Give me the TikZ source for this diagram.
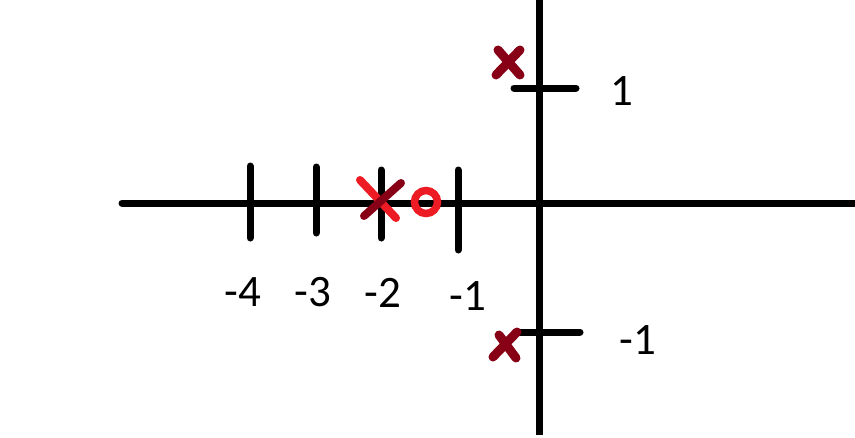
\documentclass[tikz,border=0pt]{standalone}
\usepackage{fontspec}
\setmainfont{Carlito}
\definecolor{darkred}{HTML}{880015}
\definecolor{brightred}{HTML}{ED1C24}
\begin{document}
\begin{tikzpicture}[x=1pt,y=-1pt,
  axis/.style={line width=7pt,black},
  tick/.style={line width=7pt,black,line cap=round},
  xmark/.style={line width=9pt,darkred,line cap=round},
  lbl/.style={font=\fontsize{45}{45}\selectfont,inner sep=0pt,anchor=center}]
\useasboundingbox[fill=white] (0,0) rectangle (855,437);
% axes
\coordinate (hl) at (122,203);
\coordinate (hr) at (855,203);
\coordinate (vt) at (539,0);
\coordinate (vb) at (539,435);
\draw[axis,line cap=round] (hl) -- (hr);
\draw[axis] (vt) -- (vb);
% ticks on real axis
\coordinate (t4a) at (250,166); \coordinate (t4b) at (250,238);
\coordinate (t3a) at (316,167); \coordinate (t3b) at (316,233);
\coordinate (t2a) at (381,170); \coordinate (t2b) at (381,238);
\coordinate (t1a) at (458,170); \coordinate (t1b) at (458,250);
\draw[tick] (t4a) -- (t4b);
\draw[tick] (t3a) -- (t3b);
\draw[tick] (t2a) -- (t2b);
\draw[tick] (t1a) -- (t1b);
% ticks on imaginary axis
\coordinate (u1a) at (514,88); \coordinate (u1b) at (576,88);
\coordinate (m1a) at (516,332); \coordinate (m1b) at (580,332);
\draw[tick] (u1a) -- (u1b);
\draw[tick] (m1a) -- (m1b);
% labels
\node[lbl] (l4) at (243,292) {-4};
\node[lbl] (l3) at (313,292) {-3};
\node[lbl] (l2) at (383,293) {-2};
\node[lbl] (l1) at (468,296) {-1};
\node[lbl] (lp1) at (622,91) {1};
\node[lbl] (lm1) at (638,340) {-1};
% poles (x marks)
\coordinate (xa1) at (498,50); \coordinate (xa2) at (520,75);
\coordinate (xa3) at (520,50); \coordinate (xa4) at (496,75);
\draw[xmark] (xa1) -- (xa2);
\draw[xmark] (xa3) -- (xa4);
\coordinate (xb1) at (499,335); \coordinate (xb2) at (516,358);
\coordinate (xb3) at (517,332); \coordinate (xb4) at (493,357);
\draw[xmark] (xb1) -- (xb2);
\draw[xmark] (xb3) -- (xb4);
% central x
\coordinate (xc1) at (360,180); \coordinate (xc2) at (396,218);
\coordinate (xc3) at (401,183); \coordinate (xc4) at (364,216);
\draw[line width=8pt,brightred,line cap=round] (xc1) -- (xc2);
\draw[line width=8pt,darkred,line cap=round] (xc3) -- (xc4);
% zero (circle)
\node[circle,draw=brightred,line width=7.5pt,minimum size=23pt,inner sep=0pt] (zero) at (426,202) {};
\end{tikzpicture}
\end{document}
